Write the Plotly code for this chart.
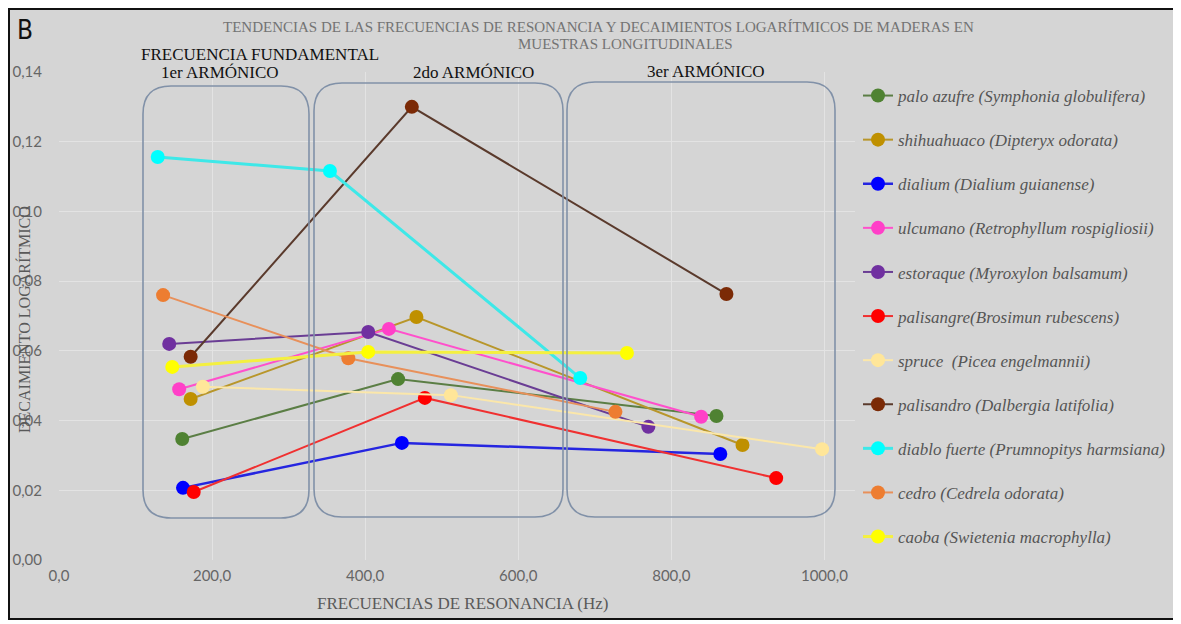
import plotly.graph_objects as go

# ---------------- data ----------------
species = [
    "palo azufre (Symphonia globulifera)",
    "shihuahuaco (Dipteryx odorata)",
    "dialium (Dialium guianense)",
    "ulcumano (Retrophyllum rospigliosii)",
    "estoraque (Myroxylon balsamum)",
    "palisangre(Brosimun rubescens)",
    "spruce  (Picea engelmannii)",
    "palisandro (Dalbergia latifolia)",
    "diablo fuerte (Prumnopitys harmsiana)",
    "cedro (Cedrela odorata)",
    "caoba (Swietenia macrophylla)",
]

freq_palo_azufre = [161, 443, 859]
dec_palo_azufre = [0.0347, 0.0519, 0.0413]
freq_shihuahuaco = [172, 467, 893]
dec_shihuahuaco = [0.0462, 0.0697, 0.0330]
freq_dialium = [162, 448, 864]
dec_dialium = [0.0207, 0.0336, 0.0304]
freq_ulcumano = [157, 431, 839]
dec_ulcumano = [0.0490, 0.0663, 0.0411]
freq_estoraque = [144, 404, 770]
dec_estoraque = [0.0620, 0.0654, 0.0382]
freq_palisangre = [176, 478, 937]
dec_palisangre = [0.0195, 0.0465, 0.0235]
freq_spruce = [188, 512, 997]
dec_spruce = [0.0497, 0.0473, 0.0318]
freq_palisandro = [172, 461, 872]
dec_palisandro = [0.0583, 0.1300, 0.0763]
freq_diablo = [129, 354, 681]
dec_diablo = [0.1156, 0.1116, 0.0522]
freq_cedro = [136, 378, 727]
dec_cedro = [0.0760, 0.0579, 0.0425]
freq_caoba = [148, 404, 742]
dec_caoba = [0.0554, 0.0597, 0.0594]

x_tick_vals = [0, 200, 400, 600, 800, 1000]
x_tick_text = ["0,0", "200,0", "400,0", "600,0", "800,0", "1000,0"]
y_tick_vals = [0, 0.02, 0.04, 0.06, 0.08, 0.10, 0.12, 0.14]
y_tick_text = ["0,00", "0,02", "0,04", "0,06", "0,08", "0,10", "0,12", "0,14"]

series_freq = [freq_palo_azufre, freq_shihuahuaco, freq_dialium, freq_ulcumano,
               freq_estoraque, freq_palisangre, freq_spruce, freq_palisandro,
               freq_diablo, freq_cedro, freq_caoba]
series_dec = [dec_palo_azufre, dec_shihuahuaco, dec_dialium, dec_ulcumano,
              dec_estoraque, dec_palisangre, dec_spruce, dec_palisandro,
              dec_diablo, dec_cedro, dec_caoba]

marker_colors = ["#4f8232", "#bf9000", "#0000ff", "#ff40c8", "#7030a0", "#ff0000",
                 "#ffe699", "#7b2a06", "#00ffff", "#ed7d31", "#ffff00"]
line_colors = ["#5b7e45", "#b8962a", "#2525e0", "#ff50cc", "#6a3d94", "#f03030",
               "#fbe7aa", "#5a3a2c", "#3ee8e8", "#e8905a", "#f4f040"]
line_widths = [2, 2, 2.5, 2, 2, 2, 2, 2, 3, 2, 3]

# ---------------- layout geometry (screen pixels) ----------------
OFF = 8  # page body margin of the html page
W, H = 1181 - OFF, 624 - OFF
L, R, T, B = 59, 855, 72, 560  # plot area in screen coordinates
XMAX, YMAX = 1040, 0.14


def px(xp):
    return (xp - L) / (R - L)


def py(yp):
    return (B - yp) / (B - T)


fig = go.Figure()
for i, name in enumerate(species):
    fig.add_trace(go.Scatter(
        x=series_freq[i], y=series_dec[i], name=name, mode="lines+markers",
        legendgroup=str(i),
        line=dict(color=line_colors[i], width=line_widths[i]),
        marker=dict(color=marker_colors[i], size=14),
    ))


def rounded_box(x0, y0, x1, y1, r):
    a0, a1 = px(x0), px(x1)
    b0, b1 = py(y1), py(y0)  # bottom, top (paper)
    rx = r / (R - L)
    ry = r / (B - T)
    path = (f"M {a0+rx},{b0} L {a1-rx},{b0} Q {a1},{b0} {a1},{b0+ry} "
            f"L {a1},{b1-ry} Q {a1},{b1} {a1-rx},{b1} L {a0+rx},{b1} "
            f"Q {a0},{b1} {a0},{b1-ry} L {a0},{b0+ry} Q {a0},{b0} {a0+rx},{b0} Z")
    return dict(type="path", xref="paper", yref="paper", path=path,
                line=dict(color="#8191a8", width=1.6), layer="above")


shapes = [
    dict(type="rect", xref="paper", yref="paper", x0=px(9), x1=px(1176),
         y0=py(619), y1=py(9), fillcolor="#d5d5d5",
         line=dict(color="#111111", width=2), layer="below"),
    rounded_box(143, 86, 309, 518, 28),
    rounded_box(314, 83, 563, 517, 28),
    rounded_box(567, 82, 835, 517, 28),
]

serif = "Liberation Serif"
annotations = [
    dict(text="B", x=px(25), y=py(30), font=dict(family="DejaVu Sans Condensed", size=26, color="#111111")),
    dict(text="TENDENCIAS DE LAS FRECUENCIAS DE RESONANCIA Y DECAIMIENTOS LOGARÍTMICOS DE MADERAS EN",
         x=px(598), y=py(27), font=dict(family=serif, size=15, color="#737373")),
    dict(text="MUESTRAS LONGITUDINALES", x=px(625), y=py(44),
         font=dict(family=serif, size=15, color="#737373")),
    dict(text="FRECUENCIA FUNDAMENTAL", x=px(260), y=py(55),
         font=dict(family=serif, size=17, color="#111111")),
    dict(text="1er ARMÓNICO", x=px(220), y=py(73), font=dict(family=serif, size=17, color="#111111")),
    dict(text="2do ARMÓNICO", x=px(474), y=py(73), font=dict(family=serif, size=17, color="#111111")),
    dict(text="3er ARMÓNICO", x=px(706), y=py(71), font=dict(family=serif, size=17, color="#111111")),
    dict(text="DECAIMIENTO LOGARÍTMICO", x=px(24), y=py(320), textangle=-90,
         font=dict(family=serif, size=16, color="#595959")),
    dict(text="FRECUENCIAS DE RESONANCIA (Hz)", x=px(462), y=py(603),
         font=dict(family=serif, size=17, color="#595959")),
]
for a in annotations:
    a.update(xref="paper", yref="paper", showarrow=False, xanchor="center", yanchor="middle")

fig.update_layout(
    width=W, height=H,
    margin=dict(l=L - OFF, r=W - (R - OFF), t=T - OFF, b=H - (B - OFF), autoexpand=False),
    paper_bgcolor="white", plot_bgcolor="rgba(0,0,0,0)",
    shapes=shapes, annotations=annotations,
    showlegend=True,
    legend=dict(x=px(858), y=py(78), xanchor="left", yanchor="top",
                bgcolor="rgba(0,0,0,0)", tracegroupgap=19, maxheight=1000,
                font=dict(family=serif, size=17, color="#555555", style="italic")),
    xaxis=dict(range=[0, XMAX], tickvals=x_tick_vals, ticktext=x_tick_text,
               showgrid=True, gridcolor="#e3e3e3", gridwidth=1, zeroline=False,
               showline=False, ticks="", ticklabelstandoff=5,
               tickfont=dict(family="Lato", size=15, color="#666666")),
    yaxis=dict(range=[0, YMAX], tickvals=y_tick_vals, ticktext=y_tick_text,
               showgrid=True, gridcolor="#e3e3e3", gridwidth=1, zeroline=False,
               showline=False, ticks="", ticklabelstandoff=16,
               tickfont=dict(family="Lato", size=15, color="#666666")),
)

fig.write_html("out.html")
